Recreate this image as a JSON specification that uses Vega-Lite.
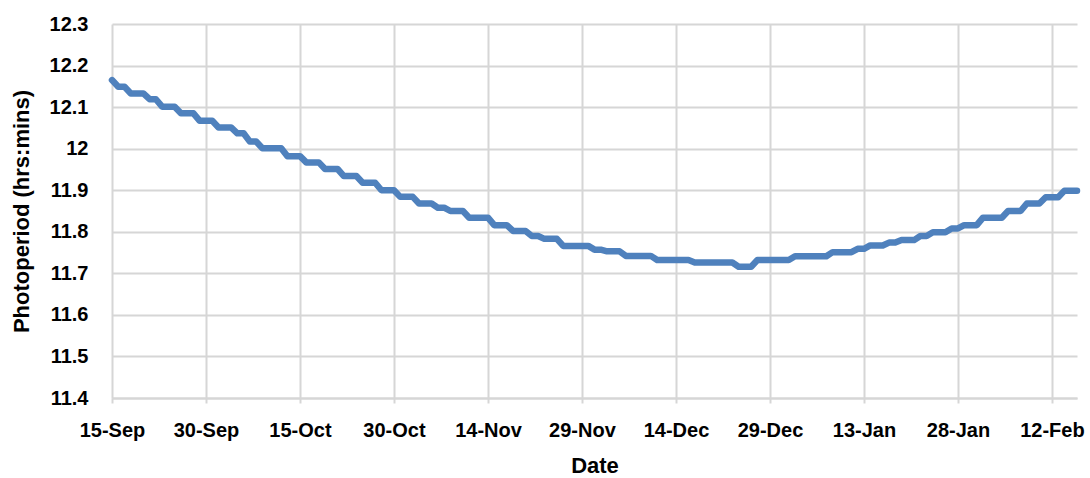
{
  "$schema": "https://vega.github.io/schema/vega-lite/v6.json",
  "autosize": {"type": "none"},
  "padding": {"left": 112, "top": 24, "right": 13, "bottom": 80},
  "width": 965,
  "height": 374,
  "background": "white",
  "config": {
    "view": {"stroke": null},
    "font": "Liberation Sans",
    "axis": {
      "labelFont": "Liberation Sans",
      "labelFontWeight": "bold",
      "labelFontSize": 20,
      "labelColor": "#000000",
      "titleFont": "Liberation Sans",
      "titleFontWeight": "bold",
      "titleFontSize": 22,
      "titleColor": "#000000",
      "gridColor": "#d6d6d6",
      "gridWidth": 2,
      "gridOpacity": 1
    }
  },
  "data": {
    "values": [
      {"date": "2019-09-15", "p": 12.165},
      {"date": "2019-09-16", "p": 12.149},
      {"date": "2019-09-17", "p": 12.149},
      {"date": "2019-09-18", "p": 12.133},
      {"date": "2019-09-19", "p": 12.133},
      {"date": "2019-09-20", "p": 12.133},
      {"date": "2019-09-21", "p": 12.119},
      {"date": "2019-09-22", "p": 12.119},
      {"date": "2019-09-23", "p": 12.101},
      {"date": "2019-09-24", "p": 12.101},
      {"date": "2019-09-25", "p": 12.101},
      {"date": "2019-09-26", "p": 12.085},
      {"date": "2019-09-27", "p": 12.085},
      {"date": "2019-09-28", "p": 12.085},
      {"date": "2019-09-29", "p": 12.067},
      {"date": "2019-09-30", "p": 12.067},
      {"date": "2019-10-01", "p": 12.067},
      {"date": "2019-10-02", "p": 12.051},
      {"date": "2019-10-03", "p": 12.051},
      {"date": "2019-10-04", "p": 12.051},
      {"date": "2019-10-05", "p": 12.037},
      {"date": "2019-10-06", "p": 12.037},
      {"date": "2019-10-07", "p": 12.017},
      {"date": "2019-10-08", "p": 12.017},
      {"date": "2019-10-09", "p": 12.001},
      {"date": "2019-10-10", "p": 12.001},
      {"date": "2019-10-11", "p": 12.001},
      {"date": "2019-10-12", "p": 12.001},
      {"date": "2019-10-13", "p": 11.982},
      {"date": "2019-10-14", "p": 11.982},
      {"date": "2019-10-15", "p": 11.982},
      {"date": "2019-10-16", "p": 11.967},
      {"date": "2019-10-17", "p": 11.967},
      {"date": "2019-10-18", "p": 11.967},
      {"date": "2019-10-19", "p": 11.951},
      {"date": "2019-10-20", "p": 11.951},
      {"date": "2019-10-21", "p": 11.951},
      {"date": "2019-10-22", "p": 11.934},
      {"date": "2019-10-23", "p": 11.934},
      {"date": "2019-10-24", "p": 11.934},
      {"date": "2019-10-25", "p": 11.918},
      {"date": "2019-10-26", "p": 11.918},
      {"date": "2019-10-27", "p": 11.918},
      {"date": "2019-10-28", "p": 11.9},
      {"date": "2019-10-29", "p": 11.9},
      {"date": "2019-10-30", "p": 11.9},
      {"date": "2019-10-31", "p": 11.884},
      {"date": "2019-11-01", "p": 11.884},
      {"date": "2019-11-02", "p": 11.884},
      {"date": "2019-11-03", "p": 11.868},
      {"date": "2019-11-04", "p": 11.868},
      {"date": "2019-11-05", "p": 11.868},
      {"date": "2019-11-06", "p": 11.858},
      {"date": "2019-11-07", "p": 11.858},
      {"date": "2019-11-08", "p": 11.85},
      {"date": "2019-11-09", "p": 11.85},
      {"date": "2019-11-10", "p": 11.85},
      {"date": "2019-11-11", "p": 11.834},
      {"date": "2019-11-12", "p": 11.834},
      {"date": "2019-11-13", "p": 11.834},
      {"date": "2019-11-14", "p": 11.834},
      {"date": "2019-11-15", "p": 11.816},
      {"date": "2019-11-16", "p": 11.816},
      {"date": "2019-11-17", "p": 11.816},
      {"date": "2019-11-18", "p": 11.802},
      {"date": "2019-11-19", "p": 11.802},
      {"date": "2019-11-20", "p": 11.802},
      {"date": "2019-11-21", "p": 11.79},
      {"date": "2019-11-22", "p": 11.79},
      {"date": "2019-11-23", "p": 11.783},
      {"date": "2019-11-24", "p": 11.783},
      {"date": "2019-11-25", "p": 11.783},
      {"date": "2019-11-26", "p": 11.766},
      {"date": "2019-11-27", "p": 11.766},
      {"date": "2019-11-28", "p": 11.766},
      {"date": "2019-11-29", "p": 11.766},
      {"date": "2019-11-30", "p": 11.766},
      {"date": "2019-12-01", "p": 11.757},
      {"date": "2019-12-02", "p": 11.757},
      {"date": "2019-12-03", "p": 11.753},
      {"date": "2019-12-04", "p": 11.753},
      {"date": "2019-12-05", "p": 11.753},
      {"date": "2019-12-06", "p": 11.742},
      {"date": "2019-12-07", "p": 11.742},
      {"date": "2019-12-08", "p": 11.742},
      {"date": "2019-12-09", "p": 11.742},
      {"date": "2019-12-10", "p": 11.742},
      {"date": "2019-12-11", "p": 11.732},
      {"date": "2019-12-12", "p": 11.732},
      {"date": "2019-12-13", "p": 11.732},
      {"date": "2019-12-14", "p": 11.732},
      {"date": "2019-12-15", "p": 11.732},
      {"date": "2019-12-16", "p": 11.732},
      {"date": "2019-12-17", "p": 11.726},
      {"date": "2019-12-18", "p": 11.726},
      {"date": "2019-12-19", "p": 11.726},
      {"date": "2019-12-20", "p": 11.726},
      {"date": "2019-12-21", "p": 11.726},
      {"date": "2019-12-22", "p": 11.726},
      {"date": "2019-12-23", "p": 11.726},
      {"date": "2019-12-24", "p": 11.716},
      {"date": "2019-12-25", "p": 11.716},
      {"date": "2019-12-26", "p": 11.716},
      {"date": "2019-12-27", "p": 11.732},
      {"date": "2019-12-28", "p": 11.732},
      {"date": "2019-12-29", "p": 11.732},
      {"date": "2019-12-30", "p": 11.732},
      {"date": "2019-12-31", "p": 11.732},
      {"date": "2020-01-01", "p": 11.732},
      {"date": "2020-01-02", "p": 11.741},
      {"date": "2020-01-03", "p": 11.741},
      {"date": "2020-01-04", "p": 11.741},
      {"date": "2020-01-05", "p": 11.741},
      {"date": "2020-01-06", "p": 11.741},
      {"date": "2020-01-07", "p": 11.741},
      {"date": "2020-01-08", "p": 11.751},
      {"date": "2020-01-09", "p": 11.751},
      {"date": "2020-01-10", "p": 11.751},
      {"date": "2020-01-11", "p": 11.751},
      {"date": "2020-01-12", "p": 11.759},
      {"date": "2020-01-13", "p": 11.759},
      {"date": "2020-01-14", "p": 11.767},
      {"date": "2020-01-15", "p": 11.767},
      {"date": "2020-01-16", "p": 11.767},
      {"date": "2020-01-17", "p": 11.774},
      {"date": "2020-01-18", "p": 11.774},
      {"date": "2020-01-19", "p": 11.78},
      {"date": "2020-01-20", "p": 11.78},
      {"date": "2020-01-21", "p": 11.78},
      {"date": "2020-01-22", "p": 11.79},
      {"date": "2020-01-23", "p": 11.79},
      {"date": "2020-01-24", "p": 11.799},
      {"date": "2020-01-25", "p": 11.799},
      {"date": "2020-01-26", "p": 11.799},
      {"date": "2020-01-27", "p": 11.808},
      {"date": "2020-01-28", "p": 11.808},
      {"date": "2020-01-29", "p": 11.816},
      {"date": "2020-01-30", "p": 11.816},
      {"date": "2020-01-31", "p": 11.816},
      {"date": "2020-02-01", "p": 11.834},
      {"date": "2020-02-02", "p": 11.834},
      {"date": "2020-02-03", "p": 11.834},
      {"date": "2020-02-04", "p": 11.834},
      {"date": "2020-02-05", "p": 11.85},
      {"date": "2020-02-06", "p": 11.85},
      {"date": "2020-02-07", "p": 11.85},
      {"date": "2020-02-08", "p": 11.868},
      {"date": "2020-02-09", "p": 11.868},
      {"date": "2020-02-10", "p": 11.868},
      {"date": "2020-02-11", "p": 11.883},
      {"date": "2020-02-12", "p": 11.883},
      {"date": "2020-02-13", "p": 11.883},
      {"date": "2020-02-14", "p": 11.899},
      {"date": "2020-02-15", "p": 11.899},
      {"date": "2020-02-16", "p": 11.899}
    ]
  },
  "mark": {"type": "line", "color": "#4f81bd", "strokeWidth": 6.5, "strokeJoin": "round", "strokeCap": "round"},
  "encoding": {
    "x": {
      "field": "date",
      "type": "temporal",
      "scale": {
        "type": "utc",
        "domain": [
          {"year": 2019, "month": 9, "date": 15, "utc": true},
          {"year": 2020, "month": 2, "date": 16, "utc": true}
        ]
      },
      "axis": {
        "title": "Date",
        "values": [
          {"year": 2019, "month": 9, "date": 15, "utc": true},
          {"year": 2019, "month": 9, "date": 30, "utc": true},
          {"year": 2019, "month": 10, "date": 15, "utc": true},
          {"year": 2019, "month": 10, "date": 30, "utc": true},
          {"year": 2019, "month": 11, "date": 14, "utc": true},
          {"year": 2019, "month": 11, "date": 29, "utc": true},
          {"year": 2019, "month": 12, "date": 14, "utc": true},
          {"year": 2019, "month": 12, "date": 29, "utc": true},
          {"year": 2020, "month": 1, "date": 13, "utc": true},
          {"year": 2020, "month": 1, "date": 28, "utc": true},
          {"year": 2020, "month": 2, "date": 12, "utc": true}
        ],
        "labelExpr": "utcFormat(datum.value, '%-d-%b')",
        "labelAngle": 0,
        "labelFlush": false,
        "labelOverlap": false,
        "grid": true,
        "domain": true,
        "domainColor": "#d6d6d6",
        "domainWidth": 2,
        "ticks": true,
        "tickColor": "#d6d6d6",
        "tickWidth": 2,
        "tickSize": 5,
        "labelPadding": 17,
        "titlePadding": 15
      }
    },
    "y": {
      "field": "p",
      "type": "quantitative",
      "scale": {"domain": [11.4, 12.3], "nice": false, "zero": false},
      "axis": {
        "title": "Photoperiod (hrs:mins)",
        "values": [11.4, 11.5, 11.6, 11.7, 11.8, 11.9, 12.0, 12.1, 12.2, 12.3],
        "format": "~f",
        "grid": true,
        "domain": false,
        "ticks": false,
        "labelPadding": 24,
        "titlePadding": 16
      }
    }
  }
}
